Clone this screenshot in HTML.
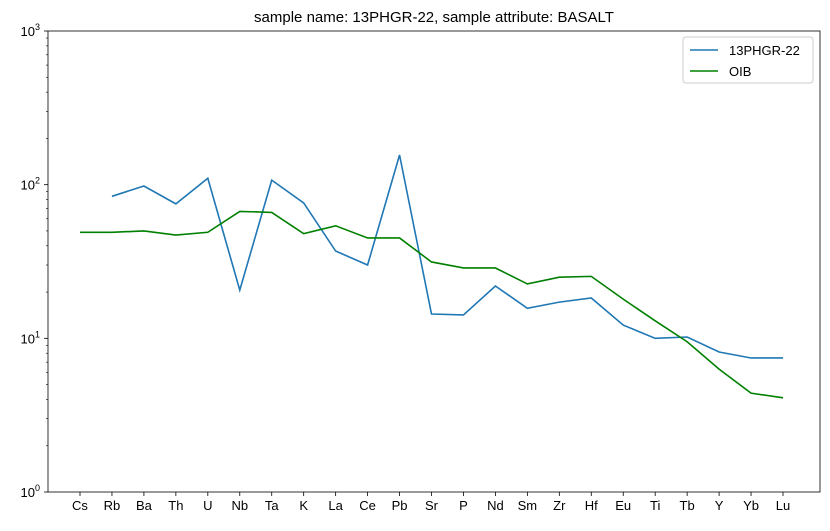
<!DOCTYPE html>
<html><head><meta charset="utf-8"><style>
body{margin:0;background:#fff;}
svg text{font-family:"Liberation Sans","DejaVu Sans",sans-serif;}
</style></head><body>
<svg id="chart" width="830" height="526" xmlns="http://www.w3.org/2000/svg"></svg>
<script>
const categories=["Cs","Rb","Ba","Th","U","Nb","Ta","K","La","Ce","Pb","Sr","P","Nd","Sm","Zr","Hf","Eu","Ti","Tb","Y","Yb","Lu"];
const sampleValues=[null,84,98,75,110,20.6,107,76,37,30,156,14.4,14.2,21.9,15.7,17.2,18.3,12.2,10.0,10.2,8.15,7.45,7.45];
const oibValues=[49,49,50,47,49,67,66,48,54,45,45,31.4,28.7,28.7,22.6,25,25.3,18,13,9.5,6.3,4.4,4.1];
const yTickValues=[1,10,100,1000];
const yTickLabels=["10","10","10","10"];
const yTickExps=["0","1","2","3"];

const svg=document.getElementById('chart');
const NS="http://www.w3.org/2000/svg";
const L=48,R=820,T=31,B=492;
const x=i=>80+i*(783-80)/(categories.length-1);
const y=v=>B-(B-T)*(Math.log10(v)-0)/3;
function mk(tag,attrs,parent){const e=document.createElementNS(NS,tag);for(const k in attrs)e.setAttribute(k,attrs[k]);(parent||svg).appendChild(e);return e;}

const title=mk('text',{x:(L+R)/2,y:22,'text-anchor':'middle','font-size':15});


title.textContent="sample name: 13PHGR-22, sample attribute: BASALT";

// x ticks
categories.forEach((c,i)=>{
 const t=mk('line',{x1:x(i),x2:x(i),y1:B,y2:B+4,stroke:'#000','stroke-width':0.8});
 
 
 const l=mk('text',{x:x(i),y:B+18,'text-anchor':'middle','font-size':13});
 
 
 l.textContent=c;
});
// y ticks
yTickValues.forEach((v,i)=>{
 mk('line',{x1:L-4,x2:L,y1:y(v),y2:y(v),stroke:'#000','stroke-width':0.8});
 const l=mk('text',{x:L-8,y:y(v)+5,'text-anchor':'end','font-size':13});
 
 
 l.textContent=yTickLabels[i];
 const s=mk('tspan',{dy:-6,'font-size':9},l);s.textContent=yTickExps[i];
 if(i<yTickValues.length-1){for(let m=2;m<10;m++){mk('line',{x1:L-2,x2:L,y1:y(v*m),y2:y(v*m),stroke:'#000','stroke-width':0.6});}}
});
function series(vals,color,name){
 let d='';let pen=false;
 vals.forEach((v,i)=>{if(v==null){pen=false;return;}d+=(pen?'L':'M')+x(i)+','+y(v);pen=true;});
 const p=mk('path',{d:d,fill:'none',stroke:color,'stroke-width':1.6});
 
 
}
series(sampleValues,'#1f77b4','sample-line');
series(oibValues,'#008000','oib-line');
const frame=mk('rect',{x:L,y:T,width:R-L,height:B-T,fill:'none',stroke:'#000','stroke-width':0.8});


// legend
const lg=mk('g',{});


mk('rect',{x:683,y:37,width:130,height:46,rx:3,fill:'#fff',stroke:'#ccc'},lg);
[['13PHGR-22','#1f77b4'],['OIB','#008000']].forEach((e,i)=>{
 const g=mk('g',{},lg);
 
 
 mk('line',{x1:690,x2:718,y1:50+i*21,y2:50+i*21,stroke:e[1],'stroke-width':1.6},g);
 const t=mk('text',{x:729,y:55+i*21,'font-size':13},g);t.textContent=e[0];
});
</script>
</body></html>
